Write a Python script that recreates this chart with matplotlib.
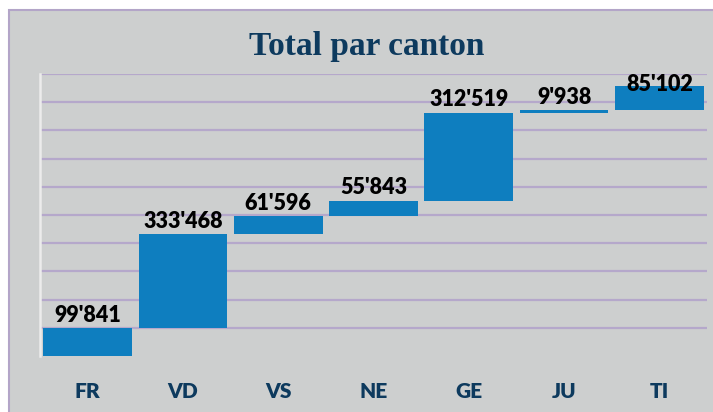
import numpy as np
import matplotlib
matplotlib.use("Agg")
import matplotlib.pyplot as plt
from matplotlib.patches import Rectangle

# data
cantons = ['FR', 'VD', 'VS', 'NE', 'GE', 'JU', 'TI']
totals = [99841, 333468, 61596, 55843, 312519, 9938, 85102]
title = 'Total par canton'

bg = '#cdcfcf'
bar_col = '#0e7ebf'
grid_col = '#b5a8cb'
navy = '#0d3a5e'

fig = plt.figure(figsize=(7.13, 4.12), dpi=100)
fig.patch.set_facecolor('white')
# grey frame behind the chart
fig.patches.append(Rectangle((9/713, -0.05), 1.1, 1 - 10/412 + 0.05,
                             transform=fig.transFigure, facecolor=bg,
                             edgecolor='#b3a5c8', linewidth=1.5, zorder=-10))

ax = fig.add_axes([40/713, 1 - 356/412, 667/713, 282/412])
ax.set_facecolor('none')

vals = np.array(totals, dtype=float)
bottoms = np.concatenate(([0], np.cumsum(vals)[:-1]))
tops = bottoms + vals
x = np.arange(len(cantons))

ax.bar(x, vals, bottom=bottoms, width=0.93, color=bar_col, zorder=3)

for xi, top, v in zip(x, tops, vals):
    ypos = min(top + 8000, 925000)
    lab = '{:,}'.format(int(v)).replace(',', "'")
    ax.text(xi, ypos, lab, ha='center', va='bottom', fontsize=15.5,
            fontweight='heavy', family='Lato', color='black', zorder=4)

ax.set_xlim(-0.5, len(cantons) - 0.5)
ax.set_ylim(0, 1000000)
ax.set_yticks(np.arange(100000, 1000001, 100000))
ax.yaxis.grid(True, color=grid_col, linewidth=1.6, zorder=1)
ax.set_axisbelow(True)
ax.tick_params(axis='y', left=False, labelleft=False)
ax.tick_params(axis='x', bottom=False, pad=15)
ax.set_xticks(x)
ax.set_xticklabels(cantons, fontsize=15, fontweight='heavy', family='Lato', color=navy)

for s in ['top', 'right', 'bottom']:
    ax.spines[s].set_visible(False)
ax.spines['left'].set_color('#ececec')
ax.spines['left'].set_linewidth(1.8)

fig.text(367/713, 1 - 46/412, title, ha='center', va='center', fontsize=24,
         fontweight='bold', family='Liberation Serif', color=navy)

fig.savefig('out.png', dpi=100)
